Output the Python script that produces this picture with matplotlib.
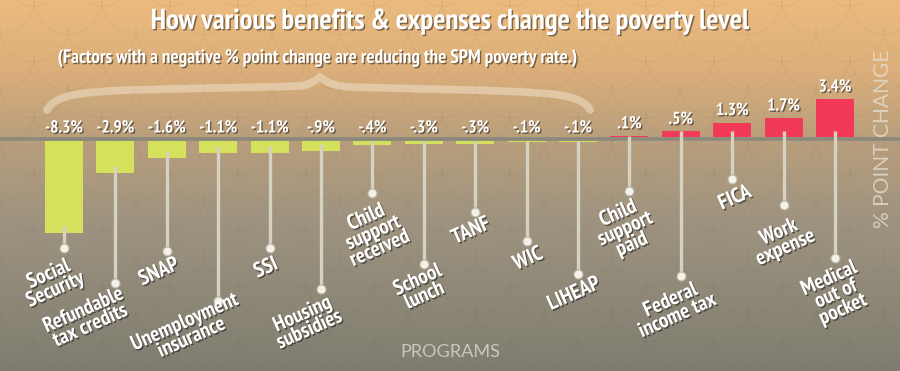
import numpy as np
import matplotlib
matplotlib.use("Agg")
import matplotlib.pyplot as plt
from matplotlib import font_manager as fm
from matplotlib.colors import LinearSegmentedColormap
from matplotlib.path import Path
from matplotlib.patches import PathPatch, Arc
from matplotlib.transforms import Affine2D
import matplotlib.patheffects as pe

# ---------------- data ----------------
categories = ["Social\nSecurity", "Refundable\ntax credits", "SNAP", "Unemployment\ninsurance",
              "SSI", "Housing\nsubsidies", "Child\nsupport\nreceived", "School\nlunch", "TANF",
              "WIC", "LIHEAP", "Child\nsupport\npaid", "Federal\nincome tax", "FICA",
              "Work\nexpense", "Medical\nout of\npocket"]
values = [-8.3, -2.9, -1.6, -1.1, -1.1, -0.9, -0.4, -0.3, -0.3, -0.1, -0.1,
          0.1, 0.5, 1.3, 1.7, 3.4]
title = "How various benefits & expenses change the poverty level"
subtitle = "(Factors with a negative % point change are reducing the SPM poverty rate.)"
x_title = "PROGRAMS"
y_title = "% POINT CHANGE"

# ---------------- fonts ----------------
available = set(f.name for f in fm.fontManager.ttflist)
def pick(cands):
    for c in cands:
        if c in available:
            return c
    return "DejaVu Sans"
COND = pick(["PT Sans Narrow", "Fira Sans Condensed", "Roboto Condensed", "Archivo Narrow",
             "Barlow Semi Condensed", "Asap Condensed", "Encode Sans Condensed",
             "Liberation Sans Narrow", "Liberation Sans"])
LIGHT = pick(["Lato", "Open Sans", "Roboto"])
FONT = [COND, "DejaVu Sans"]
THIN = [LIGHT, "DejaVu Sans"]

# ---------------- layout (pixels from top-left) ----------------
W, H = 900, 371
PX_PER_UNIT = 11.15
X0, DX = 64.0, 51.4          # first bar centre and spacing
BASE = 138.75                # zero line
LINE_HALF = 1.75 / PX_PER_UNIT
dot_y = [248, 283, 251, 301, 248, 289, 193, 264, 212, 241, 274, 191, 276, 179, 205, 258]
label_xy = [(52, 282), (87, 318), (159, 272), (188, 330), (266, 268), (306, 322),
            (373, 233), (421, 288), (471, 231), (528, 259), (574, 294), (625, 229),
            (674, 308), (735, 198), (782, 240), (836, 294)]

GREEN = "#d5e05c"
RED = "#f23a58"

fig = plt.figure(figsize=(W / 100, H / 100), dpi=100)
ax = fig.add_axes([0, 0, 1, 1])
ax.set_xlim(-X0 / DX, (W - X0) / DX)
ax.set_ylim(-(H - BASE) / PX_PER_UNIT, BASE / PX_PER_UNIT)
ax.axis("off")
renderer = fig.canvas.get_renderer()

def fit_size(text, target_px, weight="bold", family=FONT, base=12.0):
    t = fig.text(0, 0, text, fontsize=base, family=family, fontweight=weight)
    w = t.get_window_extent(renderer).width
    t.remove()
    return base * target_px / w

PX = Affine2D().scale(1 / W, -1 / H).translate(0, 1) + ax.transAxes

# background gradient
cmap = LinearSegmentedColormap.from_list(
    "bg", [(0.0, "#ebbb7f"), (0.18, "#ddaf7a"), (0.37, "#b99f7c"),
           (0.6, "#9e9380"), (1.0, "#7f7d70")])
grad = np.linspace(0, 1, 256).reshape(-1, 1)
ax.imshow(grad, cmap=cmap, aspect="auto", extent=[0, 1, 0, 1],
          transform=ax.transAxes, zorder=0, origin="upper")

# faint fish-scale pattern
r = 34
for row in range(-1, 14):
    yy = row * 28
    off = (row % 2) * r
    for col in range(-1, 16):
        xx = col * 2 * r + off
        ax.add_patch(Arc((xx, yy), 2 * r, 2 * r, theta1=0, theta2=180,
                         transform=PX, color="#5a4a38", lw=0.6, alpha=0.08, zorder=0.5))

# brace over the negative factors
verts = [(47, 110), (55, 95), (80, 92), (130, 90),
         (200, 88), (280, 87), (300, 86),
         (310, 85), (316, 80), (320, 77),
         (325, 81), (332, 86), (350, 87),
         (420, 89), (500, 90), (540, 93),
         (570, 95), (585, 100), (590, 110)]
codes = [Path.MOVETO] + [Path.CURVE4] * 18
ax.add_patch(PathPatch(Path(verts, codes), transform=PX, fill=False,
                       edgecolor="#f3e6d0", lw=5.5, alpha=0.5,
                       capstyle="round", joinstyle="round", zorder=1))

# bars
xs = np.arange(len(values))
bottoms = [-LINE_HALF if v < 0 else LINE_HALF for v in values]
colors = [GREEN if v < 0 else RED for v in values]
ax.bar(xs, values, bottom=bottoms, width=38 / DX, color=colors, zorder=3)

# zero line
ax.plot([0, W], [BASE, BASE], transform=PX, color="#8a897c", lw=2.6,
        solid_capstyle="butt", zorder=2)

shadow = [pe.SimplePatchShadow(offset=(1, -1), shadow_rgbFace="black", alpha=0.45), pe.Normal()]

def fmt(v):
    return f"{v:.1f}".replace("0.", ".") + "%"

val_size = fit_size("-8.3%", 38)
lab_size = fit_size("Unemployment", 115)

for i, (cat, v, dy, (lx, ly)) in enumerate(zip(categories, values, dot_y, label_xy)):
    cx = X0 + DX * i
    top_px = BASE - (v + bottoms[i]) * PX_PER_UNIT
    if v < 0:
        start = max(140.5, top_px - 7)
        lab_y = 132.5
    else:
        start = max(top_px, 131)
        lab_y = top_px - 7.5
    ax.plot([cx, cx], [start, dy], transform=PX, color="#d6d2c2", lw=2.4,
            solid_capstyle="butt", zorder=4)
    ax.plot([cx], [dy], transform=PX, marker="o", ms=6.5, mfc="#f4f1e8",
            mec="#b8b4a4", mew=0.8, zorder=5)
    ax.text(cx, lab_y, fmt(v), transform=PX, ha="center", va="baseline",
            color="white", fontsize=val_size, family=FONT, fontweight="bold",
            path_effects=shadow, zorder=6)
    ax.text(lx, ly, cat, transform=PX, ha="center", va="center",
            rotation=24, rotation_mode="default", multialignment="center",
            color="white", fontsize=lab_size, family=FONT, fontweight="bold",
            linespacing=0.86, path_effects=shadow, zorder=6)

# titles
ax.text(450, 22, title, transform=PX, ha="center", va="center", color="white",
        fontsize=fit_size(title, 596), family=FONT, fontweight="bold",
        path_effects=shadow, zorder=6)
ax.text(319, 58, subtitle, transform=PX, ha="center", va="center", color="white",
        fontsize=fit_size(subtitle, 518), family=FONT, fontweight="bold",
        path_effects=shadow, zorder=6)

ax.text(450, 352, x_title, transform=PX, ha="center", va="center", color="#d6d4c9",
        fontsize=fit_size(x_title, 100, "normal", THIN), family=THIN, fontweight="normal",
        alpha=0.85, zorder=6)
ax.text(883, 139, y_title, transform=PX, ha="center", va="center", rotation=90,
        color="#e6e0d3", fontsize=fit_size(y_title, 178, "normal", THIN), family=THIN,
        fontweight="normal", alpha=0.75, zorder=6)

fig.savefig("out.png", dpi=100)
